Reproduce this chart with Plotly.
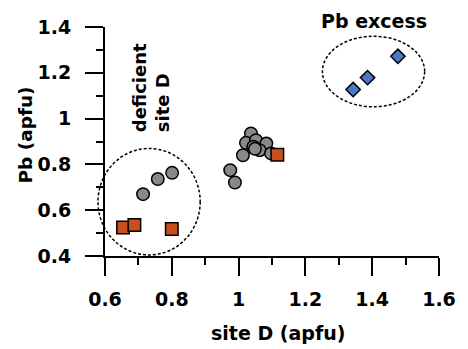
import plotly.graph_objects as go

# ---- data ----
circ_x = [0.714, 0.758, 0.801, 0.975, 0.989, 1.037, 1.022, 1.052, 1.083, 1.013, 1.044, 1.063, 1.097, 1.049]
circ_y = [0.670, 0.736, 0.763, 0.775, 0.721, 0.935, 0.894, 0.906, 0.891, 0.840, 0.877, 0.862, 0.848, 0.868]
sq_x = [0.654, 0.688, 0.800, 1.116]
sq_y = [0.525, 0.535, 0.518, 0.842]
dia_x = [1.343, 1.386, 1.477]
dia_y = [1.127, 1.179, 1.272]

x_range = [0.6, 1.6]
y_range = [0.4, 1.4]
x_ticks = [0.6, 0.8, 1.0, 1.2, 1.4, 1.6]
x_ticktext = ["0.6", "0.8", "1", "1.2", "1.4", "1.6"]
y_ticks = [0.4, 0.6, 0.8, 1.0, 1.2, 1.4]
y_ticktext = ["0.4", "0.6", "0.8", "1", "1.2", "1.4"]

x_title = "site D (apfu)"
y_title = "Pb (apfu)"

# ellipses: (center x, center y, radius x, radius y) in data units
ellipse_left = [0.732, 0.637, 0.153, 0.2325]
ellipse_right = [1.404, 1.2055, 0.153, 0.154]

FONT = "DejaVu Sans"

fig = go.Figure()
fig.add_trace(go.Scatter(x=circ_x, y=circ_y, mode="markers",
                         marker=dict(symbol="circle", size=12.5, color="#898989",
                                     line=dict(color="black", width=1.5)),
                         cliponaxis=False))
fig.add_trace(go.Scatter(x=sq_x, y=sq_y, mode="markers",
                         marker=dict(symbol="square", size=12.5, color="#c8501f",
                                     line=dict(color="black", width=1.5)),
                         cliponaxis=False))
fig.add_trace(go.Scatter(x=dia_x, y=dia_y, mode="markers",
                         marker=dict(symbol="diamond", size=11, color="#4a78c8",
                                     line=dict(color="black", width=1.5)),
                         cliponaxis=False))


def to_paper(v, rng):
    return (v - rng[0]) / (rng[1] - rng[0])


for cx, cy, rx, ry in [ellipse_left, ellipse_right]:
    fig.add_shape(type="circle", xref="paper", yref="paper",
                  x0=to_paper(cx - rx, x_range), x1=to_paper(cx + rx, x_range),
                  y0=to_paper(cy - ry, y_range), y1=to_paper(cy + ry, y_range),
                  line=dict(color="black", width=1.5, dash="3px,2px"))

bold = lambda s: dict(family=FONT, size=s, color="black", weight="bold")

fig.add_annotation(x=1.404, y=to_paper(1.427, y_range), xref="x", yref="paper", text="Pb excess",
                   showarrow=False, xanchor="center", yanchor="middle", font=bold(19))
fig.add_annotation(x=0.738, y=1.133, xref="x", yref="y", text="deficient<br>site D",
                   showarrow=False, textangle=-90, align="left", font=bold(18))
# axis titles
fig.add_annotation(x=0.517, y=-0.336, xref="paper", yref="paper", text=x_title,
                   showarrow=False, xanchor="center", yanchor="middle", font=bold(19))
fig.add_annotation(x=-0.2384, y=0.5277, xref="paper", yref="paper", text=y_title,
                   showarrow=False, textangle=-90, xanchor="center", yanchor="middle", font=bold(18.5))

axis_common = dict(
    showgrid=False, zeroline=False, showline=True, linecolor="black", linewidth=2,
    ticks="outside", ticklen=18, tickwidth=2, tickcolor="black",
    tickfont=bold(19),
    minor=dict(ticks="outside", ticklen=7, tickwidth=2, tickcolor="black", dtick=0.1),
)

fig.update_xaxes(range=x_range, tickvals=x_ticks, ticktext=x_ticktext,
                 ticklabelstandoff=7, **axis_common)
fig.update_yaxes(range=y_range, tickvals=y_ticks, ticktext=y_ticktext,
                 ticklabelstandoff=10, **axis_common)

fig.update_layout(width=468, height=349, margin=dict(l=105, r=17, t=27, b=93),
                  plot_bgcolor="white", paper_bgcolor="white", showlegend=False)

fig.write_html("out.html")
